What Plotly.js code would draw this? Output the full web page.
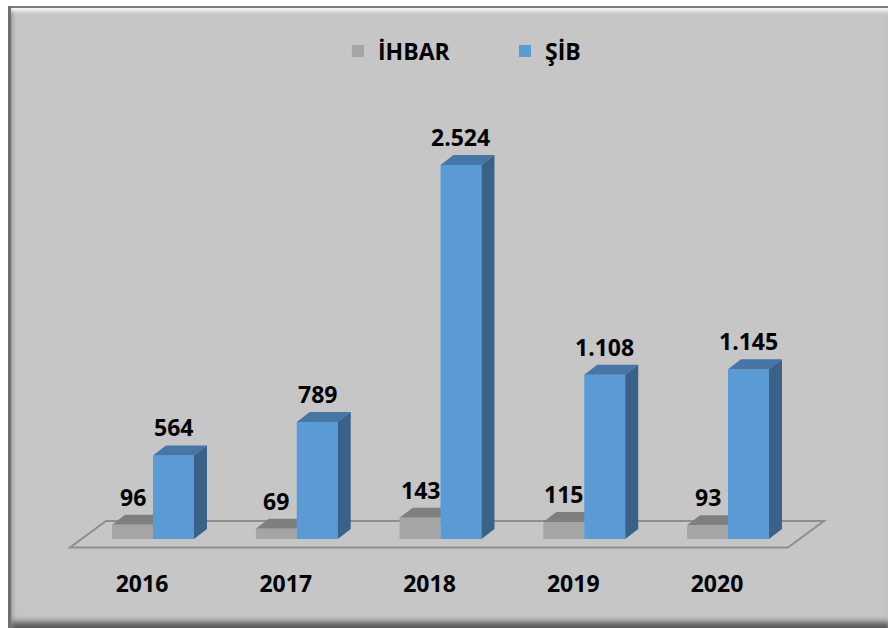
<!DOCTYPE html>
<html><head><meta charset="utf-8">
<script src="https://cdn.plot.ly/plotly-3.0.1.min.js"></script>
<style>
html,body{margin:0;padding:0;background:#fff;}
#frame{position:absolute;left:8px;top:6px;width:880px;height:622px;background:#c6c6c6;
 box-shadow: inset 3px 0 0 #6f6f6f, inset 0 2px 0 #7a7a7a, inset 0 7px 4px -2px #fdfdfd, inset 7px 0 5px -3px #8a8a8a, inset 0 -10px 6px -4px #555;}
#chart{position:absolute;left:0;top:0;width:880px;height:622px;}
</style></head>
<body>
<div id="frame"><div id="chart"></div></div>
<script>
// ---- data ----
const years = ['2016', '2017', '2018', '2019', '2020'];
const ihbar = [96, 69, 143, 115, 93];
const sib = [564, 789, 2524, 1108, 1145];
const seriesNames = ['İHBAR', 'ŞİB'];

// ---- geometry / style ----
const W = 880, H = 622;
const M = {l: 32, r: 18, t: 54, b: 64};
const plotW = W - M.l - M.r, plotH = H - M.t - M.b;
const xRange = [-0.7861, 4.9878];
const yRange = [-168.7, 3232.6];
const pxPerCat = plotW / (xRange[1] - xRange[0]);
const pxPerUnit = plotH / (yRange[1] - yRange[0]);
const bargap = 0.43;
const bw = (1 - bargap) / 2;            // width of one bar in category units
const dX = 13 / pxPerCat, dY = 10 / pxPerUnit;   // 3D depth
const grayFront = '#a5a5a5', grayTop = '#7f7f7f';
const blueFront = '#5b9bd5', blueTop = '#4676a5', blueSide = '#3a6187';
const FONT = {family: 'Open Sans, Liberation Sans, sans-serif', size: 23, color: '#000', weight: 'bold'};

function fmt(n) { return String(n).replace(/\B(?=(\d{3})+(?!\d))/g, '.'); }
function poly(pts) { return 'M' + pts.map(p => p[0] + ',' + p[1]).join(' L') + ' Z'; }

const shapes = [];
// floor
const fl = {x0: -0.577, x1: 4.417, y: -8.5 / pxPerUnit, dx: 36 / pxPerCat, dy: 26.5 / pxPerUnit};
shapes.push({type: 'path', xref: 'x', yref: 'y', layer: 'below',
  path: poly([[fl.x0, fl.y], [fl.x1, fl.y], [fl.x1 + fl.dx, fl.y + fl.dy], [fl.x0 + fl.dx, fl.y + fl.dy]]),
  line: {color: '#8e8e8e', width: 2}, fillcolor: 'rgba(0,0,0,0)'});

const annotations = [];
years.forEach((yr, i) => {
  const g = ihbar[i], b = sib[i];
  // gray bar top face
  shapes.push({type: 'path', xref: 'x', yref: 'y', layer: 'below', line: {width: 0},
    fillcolor: grayTop,
    path: poly([[i - bw, g], [i - bw + dX, g + dY], [i + dX, g + dY], [i, g]])});
  // blue top face
  shapes.push({type: 'path', xref: 'x', yref: 'y', layer: 'above', line: {width: 0},
    fillcolor: blueTop,
    path: poly([[i, b], [i + dX, b + dY], [i + bw + dX, b + dY], [i + bw, b]])});
  // blue side face
  shapes.push({type: 'path', xref: 'x', yref: 'y', layer: 'above', line: {width: 0},
    fillcolor: blueSide,
    path: poly([[i + bw, 0], [i + bw + dX, dY], [i + bw + dX, b + dY], [i + bw, b]])});
  annotations.push({x: i - bw / 2, y: g, xref: 'x', yref: 'y', text: fmt(g), showarrow: false,
    yanchor: 'bottom', yshift: 10, font: FONT});
  annotations.push({x: i + bw / 2, y: b, xref: 'x', yref: 'y', text: fmt(b), showarrow: false,
    yanchor: 'bottom', yshift: 10, font: FONT});
});

const data = [
  {type: 'bar', name: seriesNames[0], x: years, y: ihbar, marker: {color: grayFront, line: {width: 0}}, hoverinfo: 'skip'},
  {type: 'bar', name: seriesNames[1], x: years, y: sib, marker: {color: blueFront, line: {width: 0}}, hoverinfo: 'skip'}
];

const layout = {
  width: W, height: H, margin: M,
  paper_bgcolor: 'rgba(0,0,0,0)', plot_bgcolor: 'rgba(0,0,0,0)',
  barmode: 'group', bargap: bargap, bargroupgap: 0,
  font: FONT,
  xaxis: {type: 'category', range: xRange, showgrid: false, zeroline: false, showline: false,
    ticks: '', tickfont: FONT, ticklabelshift: -11, ticklabelstandoff: 4, fixedrange: true},
  yaxis: {range: yRange, visible: false, showgrid: false, zeroline: false, fixedrange: true},
  legend: {orientation: 'h', x: 0.359, y: 1.018, xanchor: 'left', yanchor: 'middle',
    bgcolor: 'rgba(0,0,0,0)', font: FONT, entrywidth: 122, itemwidth: 30},
  shapes: shapes, annotations: annotations, showlegend: true
};

Plotly.newPlot('chart', data, layout, {displayModeBar: false, staticPlot: true});
</script>
</body></html>
